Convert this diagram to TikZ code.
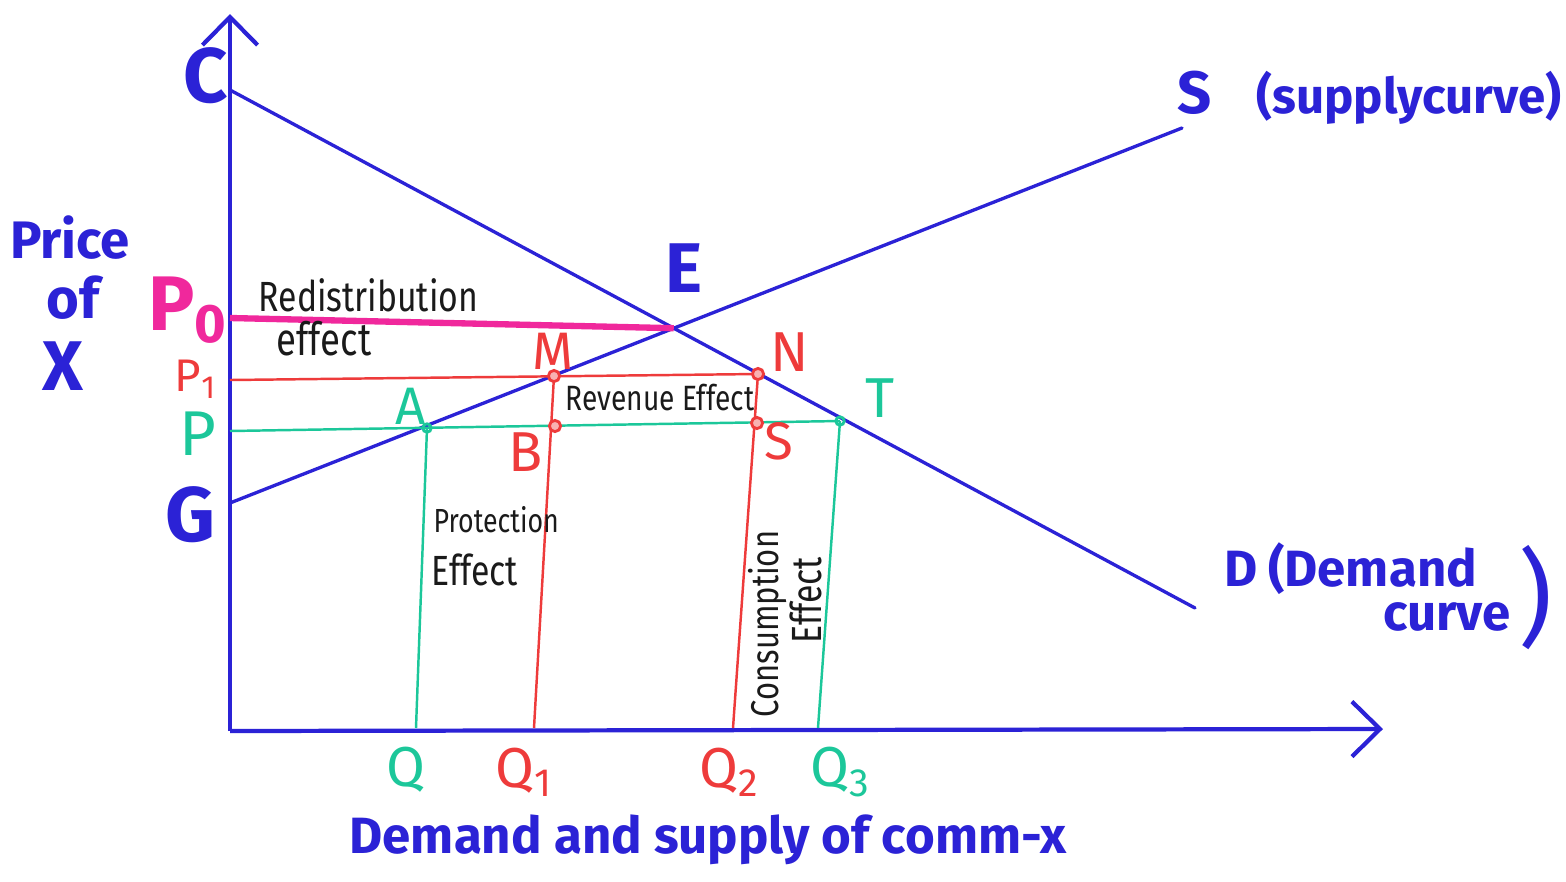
\documentclass[tikz,border=0pt]{standalone}
\usepackage{fontspec}
\setmainfont{Fira Sans}
\newfontfamily\notefont[FakeStretch=0.8]{Fira Sans}
\usetikzlibrary{arrows.meta}
\definecolor{pblue}{HTML}{2B22D6}
\definecolor{pmag}{HTML}{F0289C}
\definecolor{pred}{HTML}{EE3B3B}
\definecolor{pgreen}{HTML}{1CC79A}
\definecolor{ptext}{HTML}{1A1A1A}
\tikzset{
  axis/.style={draw=pblue, line width=1.2pt, -{Straight Barb[length=2.8mm,width=5.5mm,line width=1.2pt]}},
  curve/.style={draw=pblue, line width=0.95pt, line cap=round},
  redline/.style={draw=pred, line width=0.7pt},
  greenline/.style={draw=pgreen, line width=0.7pt},
  magline/.style={draw=pmag, line width=1.8pt},
  dotmark/.style={draw=pred, line width=0.8pt, fill=pred!40},
  bluelab/.style={text=pblue, inner sep=0pt},
  redlab/.style={text=pred, inner sep=0pt},
  greenlab/.style={text=pgreen, inner sep=0pt},
  note/.style={text=ptext, inner sep=0pt}
}
\begin{document}
\begin{tikzpicture}[x=0.01cm, y=-0.01cm]
\useasboundingbox (0,0) rectangle (1566,881);
% key points
\coordinate (O) at (230,731);
\coordinate (Ytop) at (230,14);
\coordinate (Xend) at (1383,729);
\coordinate (C) at (230,90);
\coordinate (Dend) at (1195,608);
\coordinate (G) at (230,503);
\coordinate (Send) at (1182,128);
\coordinate (E) at (intersection of C--Dend and G--Send);
\coordinate (P0L) at (230,318);
\coordinate (P1L) at (230,380);
\coordinate (PL) at (230,431);
\coordinate (M) at (554,376);
\coordinate (N) at (758,374);
\coordinate (A) at (427,428);
\coordinate (B) at (555,426);
\coordinate (S) at (757,423);
\coordinate (T) at (840,421);
\coordinate (Qf) at (416,728);
\coordinate (Q1f) at (534,728);
\coordinate (Q2f) at (733,728);
\coordinate (Q3f) at (818,728);
% axes
\draw[axis] (O) -- (Ytop);
\draw[axis] (O) -- (Xend);
% curves
\draw[curve] (C) -- (Dend);
\draw[curve] (G) -- (Send);
% price lines
\draw[magline] (P0L) -- (E);
\draw[redline] (P1L) -- (N);
\draw[greenline] (PL) -- (T);
% verticals
\draw[greenline] (A) -- (Qf);
\draw[redline] (M) -- (Q1f);
\draw[redline] (N) -- (Q2f);
\draw[greenline] (T) -- (Q3f);
% marks
\foreach \p in {M,N,B,S} \draw[dotmark] (\p) circle[radius=1.6pt];
\foreach \p in {A,T} \draw[draw=pgreen, line width=0.8pt] (\p) circle[radius=1.2pt];
% blue labels
\node[bluelab, font=\bfseries\fontsize{22}{22}\selectfont] (lC) at (206,76) {C};
\node[bluelab, font=\bfseries\fontsize{22}{22}\selectfont] (lG) at (190,515) {G};
\node[bluelab, font=\bfseries\fontsize{20}{20}\selectfont] (lE) at (684,268) {E};
\node[bluelab, font=\bfseries\fontsize{14}{14}\selectfont, anchor=east] (lS) at (1562,98) {{\fontsize{17}{17}\selectfont S}\hspace{0.9em}(supplycurve)};
\node[bluelab, font=\bfseries\fontsize{15}{15}\selectfont] (lPrice) at (70,238) {Price};
\node[bluelab, font=\bfseries\fontsize{16}{16}\selectfont] (lof) at (73,298) {of};
\node[bluelab, font=\bfseries\fontsize{20}{20}\selectfont] (lX) at (63,366) {X};
\node[bluelab, font=\bfseries\fontsize{14.5}{14.5}\selectfont, anchor=west] (lD) at (1224,568) {D\hspace{0.2em}\smash{(}Demand};
\node[bluelab, font=\bfseries\fontsize{14.5}{14.5}\selectfont] (lcurve) at (1447,617) {curve};
\node[bluelab, font=\fontsize{30}{30}\selectfont] (lparen) at (1536,598) {)};
\node[bluelab, font=\bfseries\fontsize{14.5}{14.5}\selectfont] (lxaxis) at (708,840) {Demand and supply of comm-x};
% price labels
\node[text=pmag, font=\bfseries\fontsize{22}{22}\selectfont, inner sep=0pt] (lP0) at (188,310) {P\textsubscript{0}};
\node[redlab, font=\fontsize{13}{13}\selectfont] (lP1) at (196,379) {P\textsubscript{1}};
\node[greenlab, font=\fontsize{18}{18}\selectfont] (lP) at (198,434) {P};
% point labels
\node[redlab, font=\fontsize{15}{15}\selectfont] (lM) at (553,351) {M};
\node[redlab, font=\fontsize{16}{16}\selectfont] (lN) at (790,352) {N};
\node[greenlab, font=\fontsize{15}{15}\selectfont] (lA) at (411,406) {A};
\node[redlab, font=\fontsize{16}{16}\selectfont] (lB) at (526,452) {B};
\node[redlab, font=\fontsize{15}{15}\selectfont] (lSS) at (779,441) {S};
\node[greenlab, font=\fontsize{16}{16}\selectfont] (lT) at (880,398) {T};
% quantity labels
\node[greenlab, font=\fontsize{16}{16}\selectfont] (lQ) at (406,770) {Q};
\node[redlab, font=\fontsize{16}{16}\selectfont] (lQ1) at (524,772) {Q\textsubscript{1}};
\node[redlab, font=\fontsize{16}{16}\selectfont] (lQ2) at (730,772) {Q\textsubscript{2}};
\node[greenlab, font=\fontsize{16}{16}\selectfont] (lQ3) at (841,772) {Q\textsubscript{3}};
% effect notes
\node[note, anchor=west, font=\notefont\fontsize{12}{12}\selectfont] (lRed1) at (258,295) {Redistribution};
\node[note, anchor=west, font=\notefont\fontsize{13}{13}\selectfont] (lRed2) at (276,339) {effect};
\node[note, anchor=west, font=\notefont\fontsize{10}{10}\selectfont] (lRev) at (565,398) {Revenue Effect};
\node[note, anchor=west, font=\notefont\fontsize{9.5}{10}\selectfont] (lPro1) at (433,520) {Protection};
\node[note, anchor=west, font=\notefont\fontsize{12}{12}\selectfont] (lPro2) at (431,570) {Effect};
\node[note, rotate=90, font=\notefont\fontsize{11}{11}\selectfont] (lCon1) at (768,624) {Consumption};
\node[note, rotate=90, font=\notefont\fontsize{12}{12}\selectfont] (lCon2) at (806,600) {Effect};
\end{tikzpicture}
\end{document}
